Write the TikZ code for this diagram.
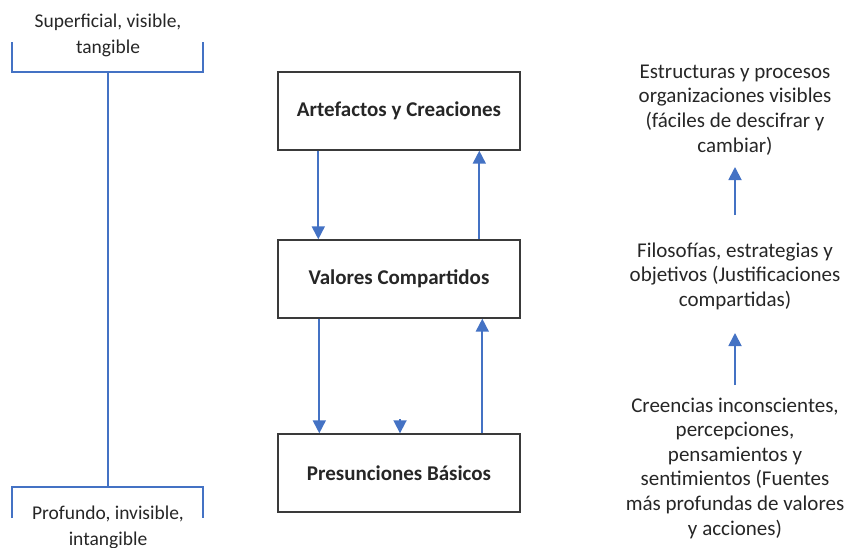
\documentclass[tikz,border=0pt]{standalone}
\usepackage{fontspec}
\setmainfont{Carlito}
\usetikzlibrary{arrows.meta}
\definecolor{linkblue}{HTML}{4472C4}
\definecolor{ink}{HTML}{262626}
\definecolor{frame}{HTML}{3A3A3A}
\tikzset{
  lbl/.style={align=center, text=ink, font=\fontsize{21}{24.6}\selectfont, inner sep=0pt},
  sidelbl/.style={lbl, font=\fontsize{19.5}{26}\selectfont},
  layer/.style={draw=frame, line width=1.4pt, fill=white, minimum width=242pt,
    minimum height=78pt, inner sep=0pt, text=ink, font=\fontsize{21}{24}\selectfont\bfseries},
  blueline/.style={draw=linkblue, line width=1.8pt},
  arr/.style={blueline, -{Triangle[length=13pt,width=13pt]}},
}
\begin{document}
\begin{tikzpicture}[x=1pt,y=-1pt]
\useasboundingbox (0,0) rectangle (850,547);

% left scale: surface to depth
\node[sidelbl] (sup) at (108,35) {Superficial, visible,\\tangible};
\node[sidelbl] (deep) at (108,527) {Profundo, invisible,\\intangible};
\coordinate (topmid) at (108,72);
\coordinate (botmid) at (108,487);
\draw[blueline] (12,42) -- (12,72) -- (203,72) -- (203,42);
\draw[blueline] (12,518) -- (12,487) -- (203,487) -- (203,518);
\draw[blueline] (topmid) -- (botmid);

% central levels
\node[layer] (art) at (399,111) {Artefactos y Creaciones};
\node[layer] (val) at (399,279) {Valores Compartidos};
\node[layer] (pre) at (399,473) {Presunciones Básicos};

\draw[arr] ([xshift=41pt]art.south west) -- ([xshift=41pt]val.north west);
\draw[arr] ([xshift=202pt]val.north west) -- ([xshift=202pt]art.south west);
\draw[arr] ([xshift=42pt]val.south west) -- ([xshift=42pt]pre.north west);
\draw[arr] ([xshift=205pt]pre.north west) -- ([xshift=205pt]val.south west);
\draw[arr] ([xshift=1pt,yshift=14pt]pre.north) -- ([xshift=1pt]pre.north);

% right column descriptions
\node[lbl] (est) at (735,110) {Estructuras y procesos\\organizaciones visibles\\(fáciles de descifrar y\\cambiar)};
\node[lbl] (fil) at (735,276) {Filosofías, estrategias y\\objetivos (Justificaciones\\compartidas)};
\node[lbl] (cre) at (735,468) {Creencias inconscientes,\\percepciones,\\pensamientos y\\sentimientos (Fuentes\\más profundas de valores\\y acciones)};

\draw[arr] (735,215) -- (735,167);
\draw[arr] (735,385) -- (735,333);
\end{tikzpicture}
\end{document}
